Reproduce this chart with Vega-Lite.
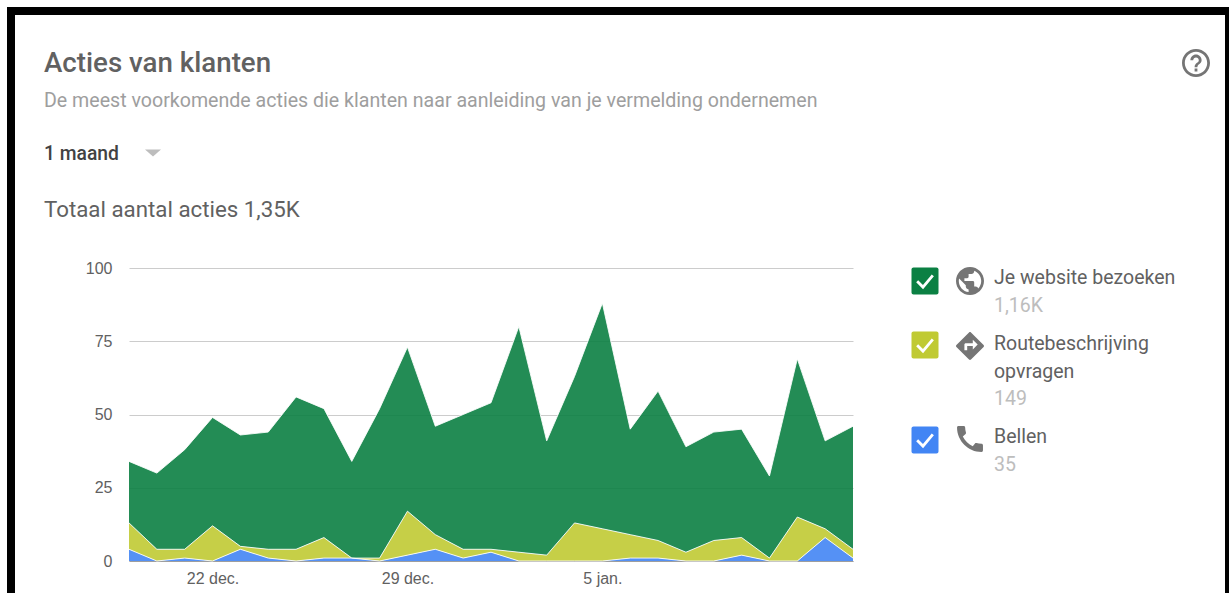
{"$schema":"https://vega.github.io/schema/vega-lite/v6.json","width":724,"height":293,"autosize":{"type":"none"},"padding":{"left":129,"top":268,"right":376,"bottom":32},"background":"#ffffff","config":{"view":{"stroke":null},"font":"Roboto"},"title":{"text":"Acties van klanten","subtitle":"De meest voorkomende acties die klanten naar aanleiding van je vermelding ondernemen","anchor":"start","frame":"group","dx":-85,"offset":-104,"font":"Roboto","fontSize":27.7,"fontWeight":500,"color":"#616161","subtitleFont":"Roboto","subtitleFontSize":19.6,"subtitleFontWeight":400,"subtitleColor":"#9e9e9e","subtitlePadding":15},"data":{"values":[
{"dag":"2018-12-19","reeks":"Bellen","acties":4},{"dag":"2018-12-19","reeks":"Routebeschrijving opvragen","acties":9},{"dag":"2018-12-19","reeks":"Je website bezoeken","acties":21},
{"dag":"2018-12-20","reeks":"Bellen","acties":0},{"dag":"2018-12-20","reeks":"Routebeschrijving opvragen","acties":4},{"dag":"2018-12-20","reeks":"Je website bezoeken","acties":26},
{"dag":"2018-12-21","reeks":"Bellen","acties":1},{"dag":"2018-12-21","reeks":"Routebeschrijving opvragen","acties":3},{"dag":"2018-12-21","reeks":"Je website bezoeken","acties":34},
{"dag":"2018-12-22","reeks":"Bellen","acties":0},{"dag":"2018-12-22","reeks":"Routebeschrijving opvragen","acties":12},{"dag":"2018-12-22","reeks":"Je website bezoeken","acties":37},
{"dag":"2018-12-23","reeks":"Bellen","acties":4},{"dag":"2018-12-23","reeks":"Routebeschrijving opvragen","acties":1},{"dag":"2018-12-23","reeks":"Je website bezoeken","acties":38},
{"dag":"2018-12-24","reeks":"Bellen","acties":1},{"dag":"2018-12-24","reeks":"Routebeschrijving opvragen","acties":3},{"dag":"2018-12-24","reeks":"Je website bezoeken","acties":40},
{"dag":"2018-12-25","reeks":"Bellen","acties":0},{"dag":"2018-12-25","reeks":"Routebeschrijving opvragen","acties":4},{"dag":"2018-12-25","reeks":"Je website bezoeken","acties":52},
{"dag":"2018-12-26","reeks":"Bellen","acties":1},{"dag":"2018-12-26","reeks":"Routebeschrijving opvragen","acties":7},{"dag":"2018-12-26","reeks":"Je website bezoeken","acties":44},
{"dag":"2018-12-27","reeks":"Bellen","acties":1},{"dag":"2018-12-27","reeks":"Routebeschrijving opvragen","acties":0},{"dag":"2018-12-27","reeks":"Je website bezoeken","acties":33},
{"dag":"2018-12-28","reeks":"Bellen","acties":0},{"dag":"2018-12-28","reeks":"Routebeschrijving opvragen","acties":1},{"dag":"2018-12-28","reeks":"Je website bezoeken","acties":51},
{"dag":"2018-12-29","reeks":"Bellen","acties":2},{"dag":"2018-12-29","reeks":"Routebeschrijving opvragen","acties":15},{"dag":"2018-12-29","reeks":"Je website bezoeken","acties":56},
{"dag":"2018-12-30","reeks":"Bellen","acties":4},{"dag":"2018-12-30","reeks":"Routebeschrijving opvragen","acties":5},{"dag":"2018-12-30","reeks":"Je website bezoeken","acties":37},
{"dag":"2018-12-31","reeks":"Bellen","acties":1},{"dag":"2018-12-31","reeks":"Routebeschrijving opvragen","acties":3},{"dag":"2018-12-31","reeks":"Je website bezoeken","acties":46},
{"dag":"2019-01-01","reeks":"Bellen","acties":3},{"dag":"2019-01-01","reeks":"Routebeschrijving opvragen","acties":1},{"dag":"2019-01-01","reeks":"Je website bezoeken","acties":50},
{"dag":"2019-01-02","reeks":"Bellen","acties":0},{"dag":"2019-01-02","reeks":"Routebeschrijving opvragen","acties":3},{"dag":"2019-01-02","reeks":"Je website bezoeken","acties":77},
{"dag":"2019-01-03","reeks":"Bellen","acties":0},{"dag":"2019-01-03","reeks":"Routebeschrijving opvragen","acties":2},{"dag":"2019-01-03","reeks":"Je website bezoeken","acties":39},
{"dag":"2019-01-04","reeks":"Bellen","acties":0},{"dag":"2019-01-04","reeks":"Routebeschrijving opvragen","acties":13},{"dag":"2019-01-04","reeks":"Je website bezoeken","acties":50},
{"dag":"2019-01-05","reeks":"Bellen","acties":0},{"dag":"2019-01-05","reeks":"Routebeschrijving opvragen","acties":11},{"dag":"2019-01-05","reeks":"Je website bezoeken","acties":77},
{"dag":"2019-01-06","reeks":"Bellen","acties":1},{"dag":"2019-01-06","reeks":"Routebeschrijving opvragen","acties":8},{"dag":"2019-01-06","reeks":"Je website bezoeken","acties":36},
{"dag":"2019-01-07","reeks":"Bellen","acties":1},{"dag":"2019-01-07","reeks":"Routebeschrijving opvragen","acties":6},{"dag":"2019-01-07","reeks":"Je website bezoeken","acties":51},
{"dag":"2019-01-08","reeks":"Bellen","acties":0},{"dag":"2019-01-08","reeks":"Routebeschrijving opvragen","acties":3},{"dag":"2019-01-08","reeks":"Je website bezoeken","acties":36},
{"dag":"2019-01-09","reeks":"Bellen","acties":0},{"dag":"2019-01-09","reeks":"Routebeschrijving opvragen","acties":7},{"dag":"2019-01-09","reeks":"Je website bezoeken","acties":37},
{"dag":"2019-01-10","reeks":"Bellen","acties":2},{"dag":"2019-01-10","reeks":"Routebeschrijving opvragen","acties":6},{"dag":"2019-01-10","reeks":"Je website bezoeken","acties":37},
{"dag":"2019-01-11","reeks":"Bellen","acties":0},{"dag":"2019-01-11","reeks":"Routebeschrijving opvragen","acties":1},{"dag":"2019-01-11","reeks":"Je website bezoeken","acties":28},
{"dag":"2019-01-12","reeks":"Bellen","acties":0},{"dag":"2019-01-12","reeks":"Routebeschrijving opvragen","acties":15},{"dag":"2019-01-12","reeks":"Je website bezoeken","acties":54},
{"dag":"2019-01-13","reeks":"Bellen","acties":8},{"dag":"2019-01-13","reeks":"Routebeschrijving opvragen","acties":3},{"dag":"2019-01-13","reeks":"Je website bezoeken","acties":30},
{"dag":"2019-01-14","reeks":"Bellen","acties":1},{"dag":"2019-01-14","reeks":"Routebeschrijving opvragen","acties":3},{"dag":"2019-01-14","reeks":"Je website bezoeken","acties":42}
]},
"layer":[
{"transform":[{"calculate":"indexof(['Bellen','Routebeschrijving opvragen','Je website bezoeken'],datum.reeks)","as":"volgorde"}],
"mark":{"type":"area","opacity":0.9,"line":{"stroke":"#ffffff","strokeWidth":1,"opacity":0.85}},
"encoding":{
"x":{"field":"dag","type":"temporal","scale":{"type":"utc","nice":false},"title":null,"axis":{"values":[{"year":2018,"month":12,"date":22,"utc":true},{"year":2018,"month":12,"date":29,"utc":true},{"year":2019,"month":1,"date":5,"utc":true}],"labelExpr":"utcdate(datum.value)+(utcmonth(datum.value)==11?' dec.':' jan.')","labelFont":"Liberation Sans","labelFontSize":16,"labelColor":"#616161","labelPadding":9,"ticks":false,"grid":false,"domain":true,"domainColor":"#9e9e9e","domainWidth":1,"labelFlush":false}},
"y":{"field":"acties","type":"quantitative","stack":"zero","scale":{"domain":[0,100],"nice":false},"title":null,"axis":{"values":[0,25,50,75,100],"labelFont":"Liberation Sans","labelFontSize":16,"labelColor":"#616161","labelPadding":17,"ticks":false,"domain":false,"grid":true,"gridColor":"#cccccc","gridWidth":1}},
"color":{"field":"reeks","type":"nominal","legend":null,"scale":{"domain":["Je website bezoeken","Routebeschrijving opvragen","Bellen"],"range":["#0b8043","#c0ca33","#4285f4"]}},
"order":{"field":"volgorde","type":"quantitative"}}},
{"data":{"values":[{"kader":"rand"}]},"mark":{"type":"rect","fill":null,"stroke":"#000000","strokeWidth":8,"clip":false},"encoding":{"x":{"value":-118},"x2":{"value":1100},"y":{"value":-257},"y2":{"value":345}}},
{"data":{"values":[{"tekst":"1 maand"}]},"mark":{"type":"text","align":"left","baseline":"middle","font":"Roboto","fontSize":19.3,"fontWeight":500,"color":"#424242"},"encoding":{"text":{"field":"tekst"},"x":{"value":-85},"y":{"value":-114}}},
{"data":{"values":[{"tekst":"keuze"}]},"mark":{"type":"point","shape":"M-1,-0.45L1,-0.45L0,0.45Z","size":256,"filled":true,"color":"#bdbdbd","opacity":1},"encoding":{"x":{"value":24},"y":{"value":-115}}},
{"data":{"values":[{"tekst":"Totaal aantal acties 1,35K"}]},"mark":{"type":"text","align":"left","baseline":"middle","font":"Roboto","fontSize":22.3,"color":"#616161"},"encoding":{"text":{"field":"tekst"},"x":{"value":-85},"y":{"value":-58}}},
{"data":{"values":[{"tekst":"hulp"}]},"mark":{"type":"point","shape":"M-1 6h2v-2h-2v2zm1-16C-5.52 -10 -10 -5.52 -10 0s4.48 10 10 10 10-4.48 10-10S5.52 -10 0 -10zm0 18c-4.41 0-8-3.59-8-8s3.59-8 8-8 8 3.59 8 8-3.59 8-8 8zm0-14c-2.21 0-4 1.79-4 4h2c0-1.1.9-2 2-2s2 .9 2 2c0 2-3 1.75-3 5h2c0-2.25 3-2.5 3-5 0-2.21-1.79-4-4-4z","size":7.84,"filled":true,"color":"#757575","opacity":1},"encoding":{"x":{"value":1067},"y":{"value":-205}}},
{"data":{"values":[{"reeks":"Je website bezoeken"}]},"layer":[
{"mark":{"type":"point","shape":"M-0.85,-1H0.85A0.15,0.15 0 0 1 1,-0.85V0.85A0.15,0.15 0 0 1 0.85,1H-0.85A0.15,0.15 0 0 1 -1,0.85V-0.85A0.15,0.15 0 0 1 -0.85,-1Z","size":729,"filled":true,"opacity":1},"encoding":{"x":{"value":796},"y":{"value":13},"color":{"field":"reeks","type":"nominal","legend":null}}},
{"mark":{"type":"point","shape":"M-0.58,0.02L-0.15,0.45L0.58,-0.42","size":729,"filled":false,"stroke":"#ffffff","strokeWidth":2.8,"opacity":1},"encoding":{"x":{"value":796},"y":{"value":13}}},
{"mark":{"type":"point","shape":"M0 -10C-5.52 -10 -10 -5.52 -10 0s4.48 10 10 10 10-4.48 10-10S5.52 -10 0 -10zm-1 17.93c-3.95-.49-7-3.85-7-7.93 0-.62.08-1.21.21-1.79L-3 3v1c0 1.1.9 2 2 2v1.93zm6.9-2.54c-.26-.81-1-1.39-1.9-1.39h-1v-3c0-.55-.45-1-1-1H-4v-2h2c.55 0 1-.45 1-1V-5h2c1.1 0 2-.9 2-2v-.41c2.93 1.19 5 4.06 5 7.41 0 2.08-.8 3.97-2.1 5.39z","size":7.84,"filled":true,"color":"#757575","opacity":1},"encoding":{"x":{"value":841},"y":{"value":13}}},
{"mark":{"type":"text","align":"left","baseline":"middle","font":"Roboto","fontSize":19.5,"color":"#616161"},"encoding":{"text":{"field":"reeks"},"x":{"value":865},"y":{"value":10}}}
]},
{"data":{"values":[{"reeks":"Routebeschrijving opvragen","regel":"Routebeschrijving"}]},"layer":[
{"mark":{"type":"point","shape":"M-0.85,-1H0.85A0.15,0.15 0 0 1 1,-0.85V0.85A0.15,0.15 0 0 1 0.85,1H-0.85A0.15,0.15 0 0 1 -1,0.85V-0.85A0.15,0.15 0 0 1 -0.85,-1Z","size":729,"filled":true,"opacity":1},"encoding":{"x":{"value":796},"y":{"value":77},"color":{"field":"reeks","type":"nominal","legend":null}}},
{"mark":{"type":"point","shape":"M-0.58,0.02L-0.15,0.45L0.58,-0.42","size":729,"filled":false,"stroke":"#ffffff","strokeWidth":2.8,"opacity":1},"encoding":{"x":{"value":796},"y":{"value":77}}},
{"mark":{"type":"point","shape":"M9.71 -0.71l-9-9c-.39-.39-1.02-.39-1.41 0l-9 9c-.39.39-.39 1.02 0 1.41l9 9c.39.39 1.02.39 1.41 0l9-9c.39-.38.39-1.01 0-1.41zM2 2.5V0h-4v3H-4v-4c0-.55.45-1 1-1h5V-4.5l3.5 3.5-3.5 3.5z","size":7.84,"filled":true,"color":"#757575","opacity":1},"encoding":{"x":{"value":841},"y":{"value":78}}},
{"mark":{"type":"text","align":"left","baseline":"middle","font":"Roboto","fontSize":19.5,"color":"#616161"},"encoding":{"text":{"field":"regel"},"x":{"value":865},"y":{"value":76}}}
]},
{"data":{"values":[{"tekst":"opvragen"}]},"mark":{"type":"text","align":"left","baseline":"middle","font":"Roboto","fontSize":19.5,"color":"#616161"},"encoding":{"text":{"field":"tekst"},"x":{"value":865},"y":{"value":104}}},
{"data":{"values":[{"reeks":"Bellen"}]},"layer":[
{"mark":{"type":"point","shape":"M-0.85,-1H0.85A0.15,0.15 0 0 1 1,-0.85V0.85A0.15,0.15 0 0 1 0.85,1H-0.85A0.15,0.15 0 0 1 -1,0.85V-0.85A0.15,0.15 0 0 1 -0.85,-1Z","size":729,"filled":true,"opacity":1},"encoding":{"x":{"value":796},"y":{"value":172},"color":{"field":"reeks","type":"nominal","legend":null}}},
{"mark":{"type":"point","shape":"M-0.58,0.02L-0.15,0.45L0.58,-0.42","size":729,"filled":false,"stroke":"#ffffff","strokeWidth":2.8,"opacity":1},"encoding":{"x":{"value":796},"y":{"value":172}}},
{"mark":{"type":"point","shape":"M8.01 3.38c-1.23 0-2.42-.2-3.53-.56-.35-.12-.74-.03-1.01.24l-1.57 1.97c-2.83-1.35-5.48-3.9-6.89-6.83l1.95-1.66c.27-.28.35-.67.24-1.02-.37-1.11-.56-2.3-.56-3.53 0-.54-.45-.99-.99-.99H-7.81C-8.35 -9 -9 -8.76 -9 -8.01 -9 1.28 -1.27 9 8.01 9c.71 0 .99-.63.99-1.18v-3.45c0-.54-.45-.99-.99-.99z","size":8.3,"filled":true,"color":"#757575","opacity":1},"encoding":{"x":{"value":841},"y":{"value":171}}},
{"mark":{"type":"text","align":"left","baseline":"middle","font":"Roboto","fontSize":19.5,"color":"#616161"},"encoding":{"text":{"field":"reeks"},"x":{"value":865},"y":{"value":169}}}
]},
{"data":{"values":[{"tekst":"1,16K"}]},"mark":{"type":"text","align":"left","baseline":"middle","font":"Roboto","fontSize":19.5,"color":"#bdbdbd"},"encoding":{"text":{"field":"tekst"},"x":{"value":865},"y":{"value":38}}},
{"data":{"values":[{"tekst":"149"}]},"mark":{"type":"text","align":"left","baseline":"middle","font":"Roboto","fontSize":19.5,"color":"#bdbdbd"},"encoding":{"text":{"field":"tekst"},"x":{"value":865},"y":{"value":131}}},
{"data":{"values":[{"tekst":"35"}]},"mark":{"type":"text","align":"left","baseline":"middle","font":"Roboto","fontSize":19.5,"color":"#bdbdbd"},"encoding":{"text":{"field":"tekst"},"x":{"value":865},"y":{"value":197}}}
]}
